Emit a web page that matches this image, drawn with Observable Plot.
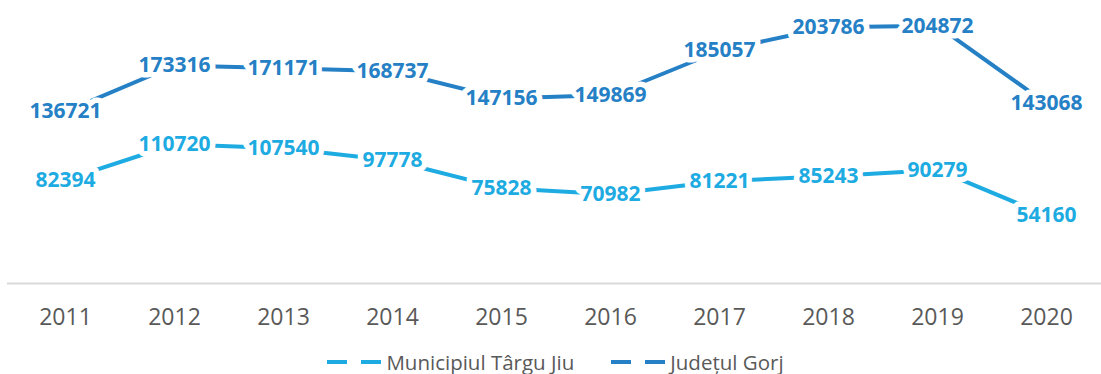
<!DOCTYPE html>
<html>
<head>
<meta charset="utf-8">
<script src="https://cdn.jsdelivr.net/npm/d3@7"></script>
<script src="https://cdn.jsdelivr.net/npm/@observablehq/plot@0.6"></script>
<style>
  html, body { margin: 0; padding: 0; background: #fff; }
  #chart { width: 1101px; height: 374px; overflow: hidden; font-family: "Open Sans", sans-serif; }
  .legend { display: flex; justify-content: center; align-items: center; gap: 37px;
            padding-left: 10px; height: 24px; margin-top: 10px; font-size: 20.5px; color: #595959; }
  .legend .item { display: flex; align-items: center; white-space: nowrap; }
  .legend svg { margin-right: 5px; }
</style>
</head>
<body>
<div id="chart"></div>
<script>
// Population by year, Târgu Jiu municipality and Gorj county
const years = ["2011", "2012", "2013", "2014", "2015", "2016", "2017", "2018", "2019", "2020"];
const targuJiu = [82394, 110720, 107540, 97778, 75828, 70982, 81221, 85243, 90279, 54160];
const gorj = [136721, 173316, 171171, 168737, 147156, 149869, 185057, 203786, 204872, 143068];
const seriesNames = ["Municipiul Târgu Jiu", "Județul Gorj"];
const seriesColors = ["#1DABE2", "#2580C5"];

const rows = [
  ...years.map((y, i) => ({year: y, value: targuJiu[i], series: seriesNames[0]})),
  ...years.map((y, i) => ({year: y, value: gorj[i], series: seriesNames[1]}))
];

const color = {domain: seriesNames, range: seriesColors};

const plot = Plot.plot({
  width: 1101,
  height: 340,
  marginLeft: 7,
  marginRight: 0,
  marginTop: 0,
  marginBottom: 57,
  style: {fontFamily: "Open Sans, sans-serif", background: "#fff"},
  x: {type: "point", domain: years, range: [61, 1050], padding: 0, label: null},
  y: {domain: [0, 225000], range: [283, 0], axis: null},
  color,
  marks: [
    Plot.ruleY([0], {stroke: "#d9d9d9", strokeWidth: 2}),
    Plot.axisX({tickSize: 0, tickPadding: 25, fontSize: 23, fill: "#595959", label: null}),
    Plot.line(rows, {x: "year", y: "value", z: "series", stroke: "series", strokeWidth: 4, strokeLinecap: "round"}),
    Plot.text(rows, {x: "year", y: "value", text: d => String(d.value), fill: "series",
      stroke: "white", strokeWidth: 11, strokeLinejoin: "round", fontSize: 21, fontWeight: "bold"})
  ]
});

const chart = document.getElementById("chart");
chart.appendChild(plot);

// Legend below the plot: dashed line key plus series name
const legend = document.createElement("div");
legend.className = "legend";
seriesNames.forEach((name, i) => {
  const item = document.createElement("div");
  item.className = "item";
  item.innerHTML = `<svg width="54" height="6"><line x1="0" x2="54" y1="3" y2="3" stroke="${seriesColors[i]}" stroke-width="4" stroke-dasharray="20 14"/></svg><span>${name}</span>`;
  legend.appendChild(item);
});
chart.appendChild(legend);
</script>
</body>
</html>
